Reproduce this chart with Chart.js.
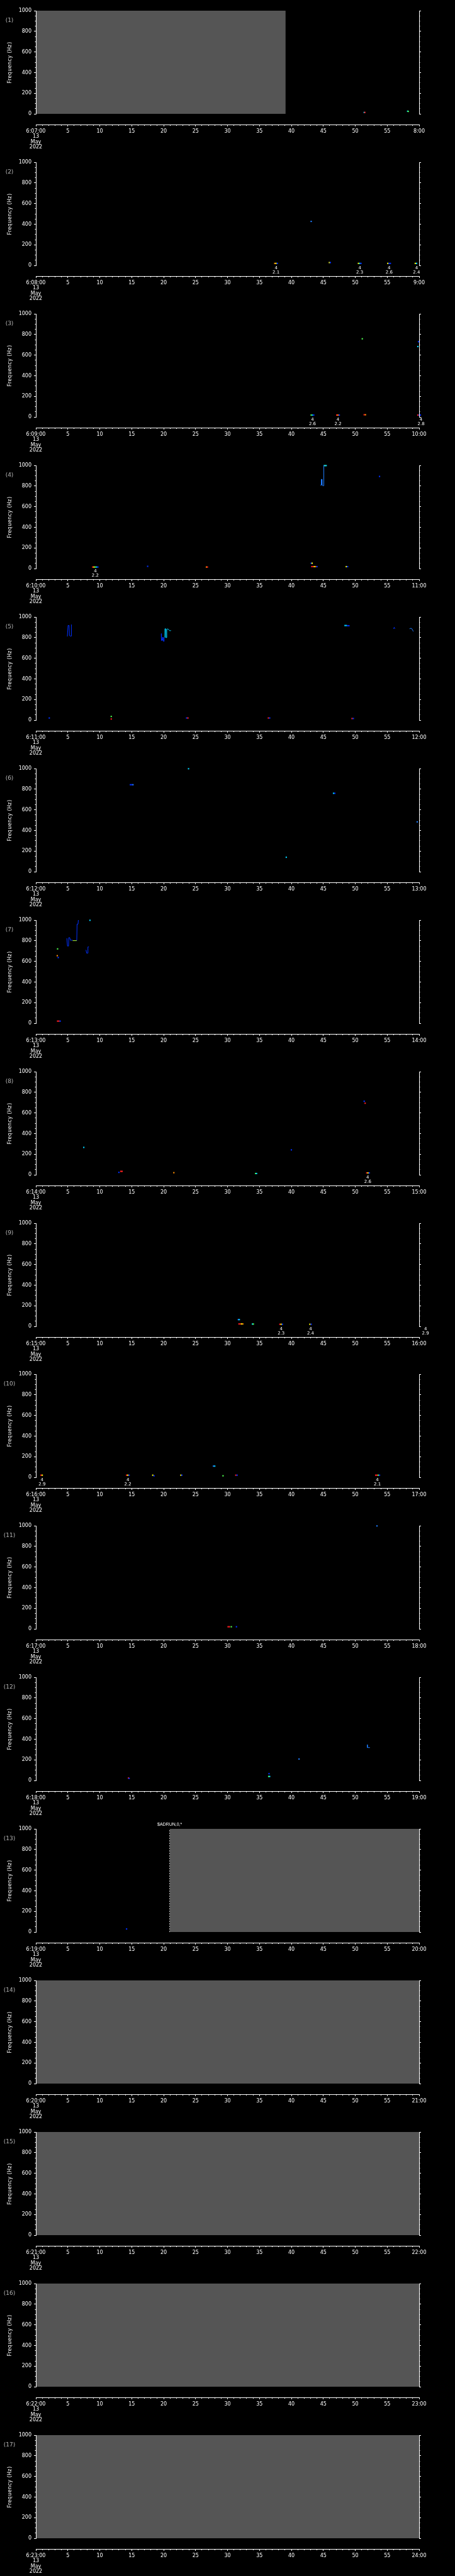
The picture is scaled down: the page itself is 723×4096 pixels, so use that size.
<!DOCTYPE html>
<html lang="en">
<head>
<meta charset="UTF-8">
<title>Frequency spectrogram 13 May 2022</title>
<script src="https://cdn.jsdelivr.net/npm/chart.js"></script>
<style>
    body { margin: 0; background: #000; }
    #wrap { position: relative; width: 723px; height: 4096px; }
    #wrap canvas { position: absolute; left: 0; }
</style>
</head>
<body>
<div id="wrap"></div>
<script>
// tick labels of the 17 one-hour panels
const startLabels = ['6:07:00', '6:08:00', '6:09:00', '6:10:00', '6:11:00', '6:12:00', '6:13:00', '6:14:00', '6:15:00',
    '6:16:00', '6:17:00', '6:18:00', '6:19:00', '6:20:00', '6:21:00', '6:22:00', '6:23:00'];
const endLabels = ['8:00', '9:00', '10:00', '11:00', '12:00', '13:00', '14:00', '15:00', '16:00',
    '17:00', '18:00', '19:00', '20:00', '21:00', '22:00', '23:00', '24:00'];
const dateLines = ['13', 'May', '2022'];
const minuteTicks = [0, 5, 10, 15, 20, 25, 30, 35, 40, 45, 50, 55, 60];
const freqTicks = [0, 200, 400, 600, 800, 1000];

// grey "no data" blocks (minutes), null = none
const gapStart = [0, null, null, null, null, null, null, null, null, null, null, null, 20.95, 0, 0, 0, 0];
const gapEnd = [39.1, null, null, null, null, null, null, null, null, null, null, null, 60, 60, 60, 60, 60];
const gapLabel = '$ADRUN,0,*';

// small spectral blobs per panel: [minute, Hz, colour]
const dots = [
    [[51.4, 14, 'c'], [51.5, 14, 'r'], [58.2, 26, 'c'], [58.3, 24, 'g']],
    [[37.4, 20, 'o'], [37.6, 20, 'y'], [37.8, 20, 'b'], [43.1, 427, 'l'], [45.95, 28, 'y'], [46.1, 28, 'b'],
        [50.5, 20, 'y'], [50.7, 20, 'c'], [50.9, 20, 'b'], [55.1, 20, 'y'], [55.3, 20, 'b'], [55.5, 20, 'b'],
        [59.4, 20, 'y'], [59.6, 20, 'c']],
    [[43.1, 19, 'g'], [43.3, 19, 'c'], [43.5, 19, 'b'], [47.1, 19, 'r'], [47.3, 19, 'o'], [47.5, 19, 'b'],
        [51.1, 758, 'g'], [51.4, 22, 'r'], [51.6, 22, 'o'], [59.8, 19, 'r'], [60.0, 19, 'b'], [60.2, 19, 'b'],
        [60.4, 19, 'b'], [59.8, 683, 'c'], [59.9, 730, 'b']],
    [[8.9, 15, 'r'], [9.1, 15, 'y'], [9.3, 15, 'g'], [9.5, 15, 'c'], [9.7, 15, 'b'], [17.5, 22, 'b'],
        [26.7, 15, 'o'], [26.85, 15, 'r'], [43.1, 52, 'b'], [43.25, 52, 'y'], [43.2, 19, 'r'], [43.4, 19, 'r'],
        [43.6, 19, 'y'], [43.8, 19, 'o'], [44.0, 19, 'b'], [48.6, 19, 'y'], [48.8, 19, 'b'], [53.8, 893, 'b'],
        [45.15, 998, 'c'], [45.3, 998, 'g'], [45.45, 998, 'c']],
    [[2.1, 21, 'b'], [11.8, 36, 'g'], [11.8, 11, 'r'], [23.6, 21, 'b'], [23.8, 21, 'r'], [36.4, 21, 'r'],
        [36.6, 21, 'b'], [48.4, 917, 'c'], [48.6, 917, 'c'], [48.8, 915, 'b'], [49.0, 915, 'b'],
        [49.5, 16, 'r'], [49.7, 16, 'b']],
    [[14.8, 843, 'b'], [15.0, 843, 'b'], [15.2, 843, 'l'], [23.9, 998, 'c'], [39.2, 140, 'c'],
        [46.6, 760, 'c'], [46.8, 760, 'b'], [59.7, 483, 'l']],
    [[3.4, 721, 'g'], [3.35, 655, 'o'], [3.5, 637, 'b'], [3.4, 21, 'r'], [3.6, 21, 'r'], [3.8, 21, 'b'],
        [8.47, 998, 'c']],
    [[7.5, 266, 'c'], [13.0, 24, 'b'], [13.3, 34, 'r'], [13.5, 34, 'r'], [21.6, 21, 'o'], [34.4, 13, 'g'],
        [34.55, 13, 'c'], [40.0, 242, 'b'], [51.4, 713, 'b'], [51.55, 694, 'r'], [51.8, 19, 'r'],
        [52.0, 19, 'y'], [52.2, 19, 'b']],
    [[31.7, 66, 'l'], [31.85, 66, 'c'], [31.8, 24, 'r'], [32.0, 24, 'r'], [32.2, 24, 'y'], [32.4, 24, 'o'],
        [33.9, 23, 'c'], [34.05, 23, 'g'], [38.2, 21, 'r'], [38.4, 21, 'y'], [38.6, 21, 'b'], [42.9, 21, 'y'],
        [43.1, 21, 'b'], [60.8, 21, 'r'], [61.0, 21, 'b']],
    [[0.8, 21, 'r'], [1.0, 21, 'y'], [14.2, 21, 'r'], [14.4, 21, 'y'], [14.6, 21, 'b'], [18.3, 21, 'y'],
        [18.5, 15, 'b'], [22.7, 21, 'y'], [22.85, 21, 'b'], [27.8, 109, 'l'], [28.0, 109, 'c'], [29.3, 15, 'g'],
        [31.3, 21, 'r'], [31.5, 21, 'b'], [53.2, 21, 'r'], [53.4, 21, 'r'], [53.6, 21, 'g'], [53.8, 21, 'b']],
    [[30.1, 21, 'r'], [30.3, 21, 'r'], [30.6, 21, 'g'], [31.4, 21, 'b'], [53.4, 998, 'l']],
    [[14.5, 24, 'r'], [14.6, 20, 'b'], [36.5, 66, 'b'], [36.45, 39, 'g'], [36.6, 39, 'c'], [41.2, 208, 'l']],
    [[14.2, 30, 'b']],
    [], [], [], []
];

// traced tracks: [panel index, colour, [[minute, Hz], ...]]
const streaks = [
    [3, 'l', [[44.55, 809], [44.65, 809], [44.68, 865], [44.78, 865], [44.8, 809], [44.95, 803], [45.05, 803], [45.08, 1000], [45.45, 1000]]],
    [4, 'b', [[4.93, 811], [5.02, 811], [5.04, 918], [5.2, 918], [5.25, 820], [5.4, 815], [5.52, 815], [5.56, 927]]],
    [4, 'b', [[19.63, 838], [19.66, 770], [19.8, 790], [19.85, 805], [19.9, 770], [20.0, 764], [20.08, 800]]],
    [4, 'c', [[20.18, 800], [20.2, 885], [20.32, 885], [20.35, 800], [20.45, 800], [20.49, 880], [20.65, 885], [20.85, 872], [21.0, 865], [21.15, 870]]],
    [4, 'b', [[56.0, 885], [56.1, 900], [56.2, 885]]],
    [4, 'l', [[58.5, 885], [58.7, 890], [58.85, 887], [59.0, 870], [59.1, 860]]],
    [6, 'b', [[4.85, 824], [4.9, 824], [4.95, 749], [5.12, 749], [5.15, 830], [5.3, 830], [5.4, 805], [5.75, 805]]],
    [6, 'k', [[5.75, 801], [6.4, 801]]],
    [6, 'b', [[6.4, 801], [6.45, 961], [6.6, 961], [6.65, 1000]]],
    [6, 'b', [[7.85, 711], [7.95, 680], [8.1, 680], [8.15, 740], [8.3, 740]]],
    [11, 'l', [[51.9, 347], [51.9, 319], [52.3, 319]]]
];

// event notes printed under the plot: [minute, value]
const noteTop = '4';
const notes = [
    [], [[37.6, '2.1'], [50.7, '2.3'], [55.3, '2.6'], [59.6, '2.4']], [[43.3, '2.6'], [47.3, '2.2'], [60.3, '2.8']],
    [[9.3, '2.2']], [], [], [], [[51.95, '2.6']], [[38.4, '2.3'], [43.0, '2.4'], [61.0, '2.9']],
    [[0.97, '2.9'], [14.4, '2.2'], [53.45, '2.1']], [], [], [], [], [], [], []
];

const palette = { b: '#0030ff', l: '#1e7cff', c: '#00d2ff', g: '#50ff50', y: '#ffff00', o: '#ff8c00', r: '#ff2020', k: '#b4ff3c' };
const FONT = 'DejaVu Sans';
const PANEL_H = 4096 / 17;

const minorMinutes = [];
for (let m = 1; m < 60; m++) if (m % 5) minorMinutes.push(m);
const minorFreq = [];
for (let f = 50; f < 1000; f += 50) if (f % 200) minorFreq.push(f);

const setTicks = vals => s => { s.ticks = vals.map(v => ({ value: v })); };

// axis lines, titles and printed notes
const deco = {
    id: 'deco',
    afterDraw(chart, args, opts) {
        const { ctx, chartArea: ca } = chart;
        const x = chart.scales.x, y = chart.scales.y;
        const i = opts.panel;
        const y0 = Math.round(y.getPixelForValue(0)) + 1;
        const y1 = Math.round(y.getPixelForValue(1000));
        ctx.save();
        ctx.strokeStyle = '#fff';
        ctx.lineWidth = 1;
        ctx.beginPath();
        [ca.left, ca.right].forEach(px => {
            const p = Math.round(px) + 0.5;
            ctx.moveTo(p, y0);
            ctx.lineTo(p, y1);
        });
        ctx.stroke();

        ctx.fillStyle = '#fff';
        ctx.textAlign = 'center';
        ctx.textBaseline = 'middle';
        ctx.save();
        ctx.translate(16, (y0 + y1) / 2);
        ctx.rotate(-Math.PI / 2);
        ctx.font = '8px ' + FONT;
        ctx.letterSpacing = '0.4px';
        ctx.fillText('Frequency (Hz)', 0, 0);
        ctx.restore();

        ctx.fillStyle = '#b4b4b4';
        ctx.font = '9px ' + FONT;
        ctx.fillText('(' + (i + 1) + ')', 15, y1 + 16);

        ctx.fillStyle = '#fff';
        ctx.font = '7px ' + FONT;
        notes[i].forEach(n => {
            const px = x.getPixelForValue(n[0]);
            ctx.fillText(noteTop, px, y.getPixelForValue(-26));
            ctx.fillText(n[1], px, y.getPixelForValue(-68));
        });
        if (gapStart[i] !== null && gapStart[i] > 0) {
            ctx.font = '7px "Liberation Sans"';
            ctx.fillText(gapLabel, x.getPixelForValue(gapStart[i]), y.getPixelForValue(1040));
        }
        ctx.restore();
    }
};

const wrap = document.getElementById('wrap');

for (let i = 0; i < 17; i++) {
    const canvas = document.createElement('canvas');
    canvas.width = 723;
    canvas.height = 241;
    canvas.style.top = Math.round(i * PANEL_H) + 'px';
    wrap.appendChild(canvas);

    const datasets = [];
    if (gapStart[i] !== null) {
        datasets.push({
            type: 'line',
            data: [{ x: gapStart[i], y: 1000 }, { x: gapEnd[i], y: 1000 }],
            borderWidth: 0, pointRadius: 0,
            fill: { value: 0 }, backgroundColor: '#555555'
        });
        if (gapStart[i] > 0) {
            datasets.push({
                type: 'line',
                data: [{ x: gapStart[i], y: 0 }, { x: gapStart[i], y: 1000 }],
                borderColor: '#dddddd', borderWidth: 1, borderDash: [2, 2], pointRadius: 0
            });
        }
    }
    streaks.filter(s => s[0] === i).forEach(s => {
        datasets.push({
            type: 'line',
            data: s[2].map(p => ({ x: p[0], y: p[1] })),
            borderColor: palette[s[1]], borderWidth: 1, pointRadius: 0, fill: false
        });
    });
    datasets.push({
        type: 'scatter',
        data: dots[i].map(d => ({ x: d[0], y: d[1] })),
        pointStyle: 'rect', pointRadius: 1.5, borderWidth: 0,
        backgroundColor: dots[i].map(d => palette[d[2]]),
        clip: false
    });

    const minorAxis = {
        min: -103, max: 1000, weight: 0,
        border: { display: false },
        grid: { drawOnChartArea: false, drawTicks: true, tickLength: 1.5, color: '#fff' },
        ticks: { display: false }
    };

    new Chart(canvas, {
        type: 'scatter',
        data: { datasets: datasets },
        plugins: [deco],
        options: {
            responsive: false,
            animation: false,
            events: [],
            layout: { padding: { top: 17, left: 0, right: 0, bottom: 0 } },
            plugins: { legend: { display: false }, tooltip: { enabled: false }, deco: { panel: i } },
            scales: {
                x: {
                    type: 'linear', position: 'bottom', min: 0, max: 60, weight: 1,
                    afterBuildTicks: setTicks(minuteTicks),
                    afterFit: s => { s.height = 43; },
                    border: { display: true, color: '#fff', width: 1 },
                    grid: { drawOnChartArea: false, drawTicks: true, tickLength: 3, color: '#fff' },
                    ticks: {
                        color: '#fff', autoSkip: false, maxRotation: 0, minRotation: 0, padding: 4,
                        font: { family: FONT, size: 8, lineHeight: 1.03 },
                        callback: v => v === 0 ? [startLabels[i]].concat(dateLines) : (v === 60 ? endLabels[i] : String(v))
                    }
                },
                xm: {
                    type: 'linear', position: 'bottom', min: 0, max: 60, weight: 0,
                    afterBuildTicks: setTicks(minorMinutes),
                    afterFit: s => { s.height = 0; },
                    border: { display: false },
                    grid: { drawOnChartArea: false, drawTicks: true, tickLength: 2, color: '#fff' },
                    ticks: { display: false }
                },
                y: {
                    type: 'linear', position: 'left', min: -103, max: 1000, weight: 1,
                    afterBuildTicks: setTicks(freqTicks),
                    afterFit: s => { s.width = 57; },
                    border: { display: false },
                    grid: { drawOnChartArea: false, drawTicks: true, tickLength: 3, color: '#fff' },
                    ticks: { color: '#fff', padding: 4, font: { family: FONT, size: 8 }, callback: v => String(v) }
                },
                ym: Object.assign({}, minorAxis, {
                    type: 'linear', position: 'left',
                    afterBuildTicks: setTicks(minorFreq),
                    afterFit: s => { s.width = 0; }
                }),
                y2: {
                    type: 'linear', position: 'right', min: -103, max: 1000, weight: 1,
                    afterBuildTicks: setTicks(freqTicks),
                    afterFit: s => { s.width = 57; },
                    border: { display: false },
                    grid: { drawOnChartArea: false, drawTicks: true, tickLength: 3, color: '#fff' },
                    ticks: { display: false }
                },
                y2m: Object.assign({}, minorAxis, {
                    type: 'linear', position: 'right',
                    afterBuildTicks: setTicks(minorFreq),
                    afterFit: s => { s.width = 0; }
                })
            }
        }
    });
}
</script>
</body>
</html>
